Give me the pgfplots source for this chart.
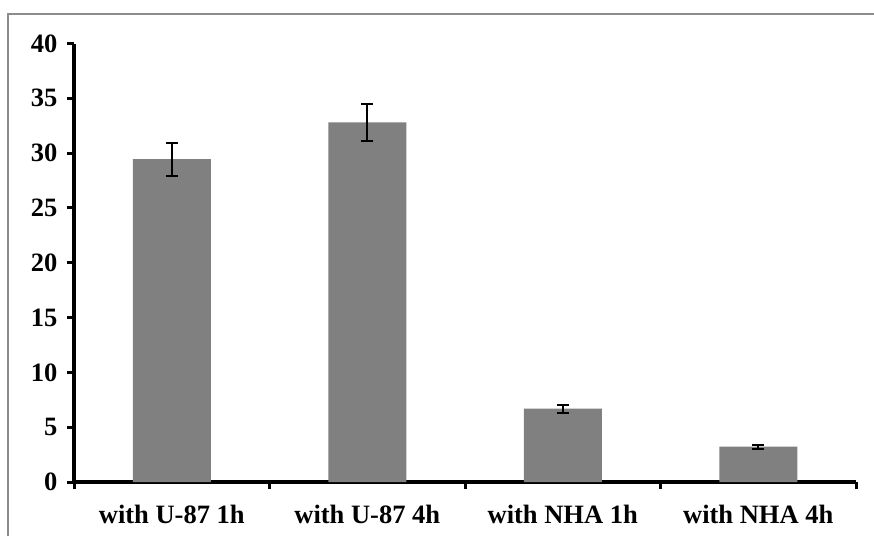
\documentclass[border=0pt]{standalone}
\usepackage{fontspec}
\setmainfont{Liberation Serif}
\usepackage{pgfplots}
\pgfplotsset{compat=1.18}
\definecolor{bargray}{HTML}{808080}
\definecolor{framegray}{HTML}{8C8C8C}
\begin{document}
\begin{tikzpicture}
\useasboundingbox (0pt,0pt) rectangle (874pt,-536pt);
\draw[framegray, line width=2pt] (8pt,-536pt) -- (8pt,-14pt) -- (874pt,-14pt);
\begin{axis}[
  at={(74pt,-482pt)}, anchor=south west,
  scale only axis,
  width=782pt, height=438.5pt,
  xmin=-0.5, xmax=3.5,
  ymin=0, ymax=40,
  axis lines*=left,
  axis line style={line width=3.5pt},
  separate axis lines,
  x axis line style={-},
  y axis line style={-},
  tick align=outside,
  major tick length=7pt,
  tick style={black, line width=3pt},
  ytick={0,5,...,40},
  xtick={-0.5,0.5,1.5,2.5,3.5},
  xticklabels={},
  xtick pos=bottom, ytick pos=left,
  extra x ticks={0,1,2,3},
  extra x tick labels={with U-87 1h, with U-87 4h, with NHA 1h, with NHA 4h},
  extra x tick style={major tick length=0pt, tick style={draw=none}},
  x tick label style={yshift=-20pt},
  y tick label style={xshift=-6pt},
  ticklabel style={font=\fontsize{26.5}{31}\selectfont\bfseries},
  /pgf/number format/assume math mode=true,
  clip=false,
]
\addplot[ybar, bar width=78pt, fill=bargray, draw=none,
  error bars/.cd, y dir=both, y explicit,
  error bar style={black, line width=2pt},
  error mark options={rotate=90, mark size=6pt, line width=2pt, black}]
  coordinates {
    (0,29.45) +- (0,1.5)
    (1,32.8) +- (0,1.65)
    (2,6.7) +- (0,0.37)
    (3,3.23) +- (0,0.18)
  };
\end{axis}
\end{tikzpicture}
\end{document}
